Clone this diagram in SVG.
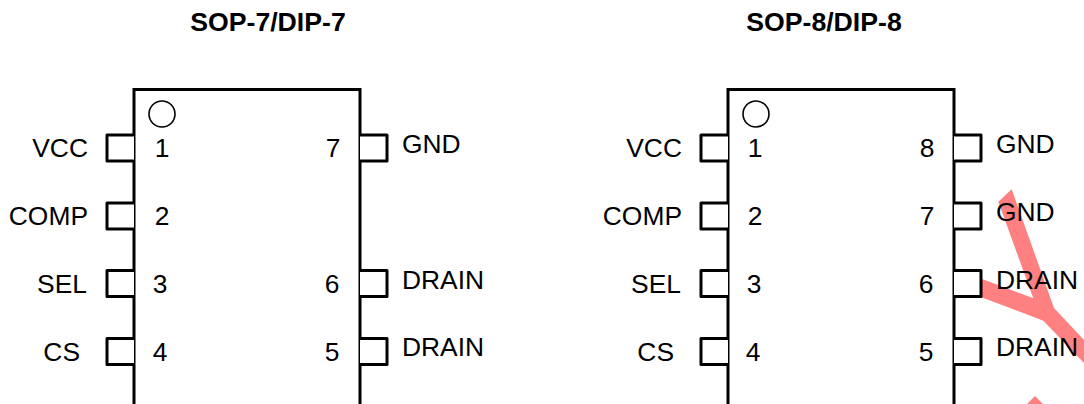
<svg xmlns="http://www.w3.org/2000/svg" width="1084" height="404" viewBox="0 0 1084 404">
<style>
text{font-family:"Liberation Sans",Arial,sans-serif;font-size:26.4px;fill:#000}
.t{font-weight:bold;font-size:26.67px;text-anchor:middle}
.e{text-anchor:end}
.m{text-anchor:middle}
.b{fill:#fff;stroke:#000;stroke-width:3}
.p{fill:#fff;stroke:#000;stroke-width:3;stroke-linejoin:round}
.c{fill:#fff;stroke:#000;stroke-width:1.6}
.r{fill:#ff8080}
</style>
<g id="chip-7">
<rect class="b" x="134" y="89.500" width="226" height="340"/>
<circle class="c" cx="162" cy="114" r="13"/>
<text class="t" x="268" y="31">SOP-7/DIP-7</text>
</g>
<g id="chip-8">
<rect class="b" x="728" y="89.500" width="226" height="340"/>
<circle class="c" cx="756" cy="114" r="13"/>
<text class="t" x="824" y="31">SOP-8/DIP-8</text>
</g>
<g id="highlight">
<polygon class="r" points="1011.700,189.300 998.300,201.700 1033.300,298.300 980,278.300 980,296.700 1043.300,320.700 1084,363 1084,340 1054,308"/>
<polygon class="r" points="1035,396 1027,404 1043,404"/>
</g>
<g id="connectors">
<path class="p" d="M134 135H107V161H134"/>
<path class="p" d="M134 203H107V229H134"/>
<path class="p" d="M134 270.500H107V296.500H134"/>
<path class="p" d="M134 338.500H107V364.500H134"/>
<path class="p" d="M360 135H387V161H360"/>
<path class="p" d="M360 270.500H387V296.500H360"/>
<path class="p" d="M360 338.500H387V364.500H360"/>
<path class="p" d="M728 135H701V161H728"/>
<path class="p" d="M728 203H701V229H728"/>
<path class="p" d="M728 270.500H701V296.500H728"/>
<path class="p" d="M728 338.500H701V364.500H728"/>
<path class="p" d="M954 135H981V161H954"/>
<path class="p" d="M954 203H981V229H954"/>
<path class="p" d="M954 270.500H981V296.500H954"/>
<path class="p" d="M954 338.500H981V364.500H954"/>
</g>
<g id="labels-7">
<text class="e" x="88" y="157">VCC</text>
<text class="e" x="88" y="225">COMP</text>
<text class="e" x="87" y="293">SEL</text>
<text class="e" x="80" y="361">CS</text>
<text class="m" x="162" y="157">1</text>
<text class="m" x="162" y="225">2</text>
<text class="m" x="160" y="293">3</text>
<text class="m" x="160" y="361">4</text>
<text class="m" x="333" y="157">7</text>
<text class="m" x="332" y="293">6</text>
<text class="m" x="332" y="361">5</text>
<text x="402" y="153">GND</text>
<text x="402" y="289">DRAIN</text>
<text x="402" y="356">DRAIN</text>
</g>
<g id="labels-8">
<text class="e" x="682" y="157">VCC</text>
<text class="e" x="682" y="225">COMP</text>
<text class="e" x="681" y="293">SEL</text>
<text class="e" x="674" y="361">CS</text>
<text class="m" x="755" y="157">1</text>
<text class="m" x="755" y="225">2</text>
<text class="m" x="754" y="293">3</text>
<text class="m" x="753" y="361">4</text>
<text class="m" x="927" y="157">8</text>
<text class="m" x="927" y="225">7</text>
<text class="m" x="926" y="293">6</text>
<text class="m" x="926" y="361">5</text>
<text x="996" y="153">GND</text>
<text x="996" y="221">GND</text>
<text x="996" y="289">DRAIN</text>
<text x="996" y="356">DRAIN</text>
</g>
</svg>
